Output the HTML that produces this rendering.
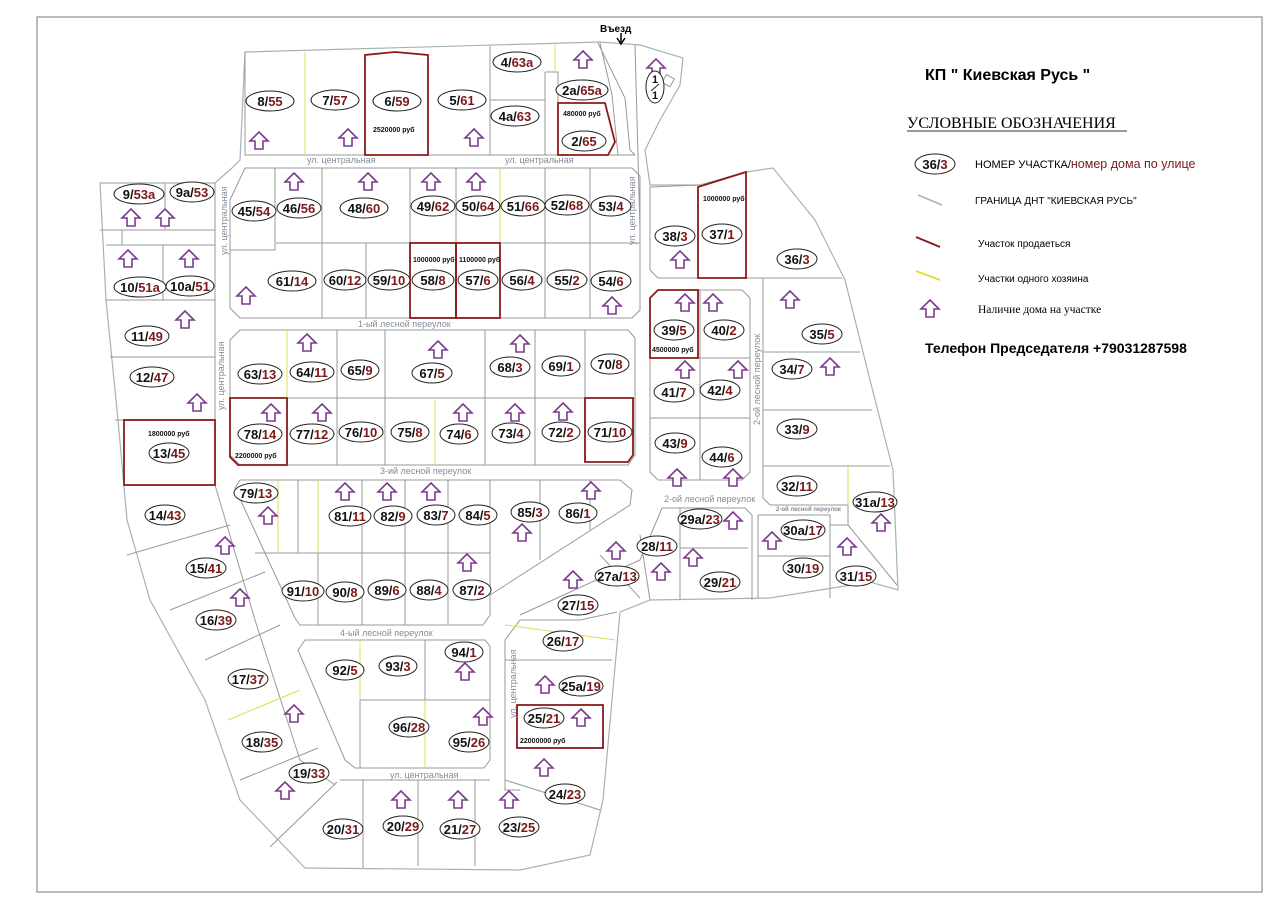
<!DOCTYPE html>
<html><head><meta charset="utf-8"><style>
html,body{margin:0;padding:0;background:#fff;}
svg{display:block;}
.l{font-family:"Liberation Sans",sans-serif;font-weight:bold;font-size:13px;fill:#111;}
.r{fill:#7a1a1a;}
.rd{font-family:"Liberation Sans",sans-serif;font-size:9px;fill:#7f8c99;}
.pr{font-family:"Liberation Sans",sans-serif;font-weight:bold;font-size:7px;fill:#111;}
</style></head><body>
<svg width="1280" height="898" viewBox="0 0 1280 898" xmlns="http://www.w3.org/2000/svg">
<defs>
<symbol id="h" viewBox="-10 -10 20 20" overflow="visible"><path d="M0,-9 L9,0 L4,0 L4,8 L-4,8 L-4,0 L-9,0 Z" fill="#fff" stroke="#7a3c8c" stroke-width="1.6"/></symbol>
</defs>
<rect x="37" y="17" width="1225" height="875" fill="none" stroke="#777" stroke-width="1"/>

<path d="M245,52 L600,42 L640,45 L683,58 L680,85 L660,120 L645,150 L650,185 L700,185 L746,172 L773,168 L815,220 L845,280 L870,380 L893,470 L898,590 L870,582 L770,598 L650,600 L620,612 L612,700 L603,800 L590,855 L520,870 L305,868 L240,800 L205,700 L150,600 L127,520 L118,420 L106,300 L100,183 L215,183 L232,168 L240,160 Z" fill="none" stroke="#a4b4b4" stroke-width="1.2"/>

<g fill="none" stroke="#999" stroke-width="1">
<path d="M245,52 L245,155 L635,155"/>
<path d="M305,52 L305,155" stroke="#e0dc50"/>
<path d="M490,46 L490,155 M490,100 L545,100 M545,72 L558,72 L558,155 M545,72 L545,155"/>
<path d="M555,43 L555,72" stroke="#e0dc50"/>
<path d="M598,43 L625,98 L630,150 L635,155 M600,43 L612,95 L618,155 M635,45 L640,230"/>
<rect x="664" y="76" width="9" height="9" transform="rotate(30 668 80)"/>
<path d="M245,168 L632,168 L640,176 L640,310 L632,318 L240,318 L230,308 L230,200 L245,168 Z"/>
<path d="M275,168 L275,250 L230,250 M276,243 L640,243 M322,168 L322,318 M410,168 L410,243 M456,168 L456,243 M545,168 L545,318 M590,168 L590,318 M366,243 L366,318 M500,243 L500,318"/>
<path d="M500,168 L500,243" stroke="#e0dc50"/>
<path d="M165,183 L165,230 M100,230 L215,230 M122,230 L122,245 L215,245 M106,245 L122,245 M215,183 L215,485 M163,245 L163,300 M106,300 L215,300 M110,357 L215,357 M115,420 L124,420 M215,485 L255,620 L300,760 L335,785"/>
<path d="M240,330 L628,330 L635,338 L635,455 L628,465 L240,465 L230,455 L230,340 Z"/>
<path d="M230,398 L635,398 M337,330 L337,465 M385,330 L385,465 M485,330 L485,465 M535,330 L535,465 M585,330 L585,398"/>
<path d="M287,330 L287,398 M435,398 L435,465" stroke="#e0dc50"/>
<path d="M240,480 L620,480 L632,490 L630,505 L490,595 L490,615 L483,625 L300,625 L295,618 L235,488 Z"/>
<path d="M255,553 L490,553 M298,480 L298,553 M362,480 L362,625 M405,480 L405,625 M448,480 L448,625 M490,480 L490,600 M540,480 L540,560 M590,480 L590,530 M318,553 L318,625"/>
<path d="M278,480 L278,553 M318,480 L318,553" stroke="#e0dc50"/>
<path d="M305,640 L485,640 L490,646 L490,760 L484,768 L355,768 L345,760 L298,650 Z"/>
<path d="M425,640 L425,700 M360,700 L490,700 M360,700 L360,768"/>
<path d="M360,640 L360,700 M425,700 L425,768" stroke="#e0dc50"/>
<path d="M340,780 L490,780 M363,780 L363,868 M418,780 L418,866 M475,780 L475,866 M337,782 L270,847 M505,780 L600,810"/>
<path d="M127,555 L230,525 M170,610 L265,572 M205,660 L280,625 M240,780 L318,748"/>
<path d="M228,720 L300,690" stroke="#e0dc50"/>
<path d="M505,640 L505,790 L520,790 M505,640 L520,620 L580,620 L617,612 M505,660 L612,660"/>
<path d="M505,625 L615,640" stroke="#e0dc50"/>
<path d="M520,615 L640,560 L662,508 L745,508 L752,515 L752,600 M680,508 L680,600 M680,548 L748,548 M758,515 L758,598 M758,515 L830,515 L830,598 M758,556 L830,556 M848,505 L848,525 L830,525 M848,525 L897,585 M600,555 L640,598 M640,535 L650,600 M770,505 L848,505"/>
<path d="M848,466 L848,505" stroke="#e0dc50"/>
<path d="M650,187 L700,185 M650,187 L650,270 L658,278 L842,278 M763,278 L763,498 L770,505 M763,352 L860,352 M763,410 L872,410 M763,466 L890,466"/>
<path d="M658,290 L742,290 L750,298 L750,472 L742,480 L658,480 L650,472 L650,298 Z M700,290 L700,480 M650,358 L750,358 M650,418 L750,418"/>
</g>

<g fill="none" stroke="#8b1a1a" stroke-width="1.8">
<path d="M365,155 L365,55 L395,52 L428,55 L428,155 Z"/>
<path d="M558,103 L605,103 L615,142 L608,155 L558,155 Z"/>
<rect x="410" y="243" width="46" height="75"/>
<rect x="456" y="243" width="44" height="75"/>
<rect x="124" y="420" width="91" height="65"/>
<path d="M230,398 L287,398 L287,465 L238,465 L230,457 Z"/>
<path d="M585,398 L633,398 L633,455 L628,462 L585,462 Z"/>
<path d="M698,187 L746,172 L746,278 L698,278 Z"/>
<path d="M658,290 L698,290 L698,358 L650,358 L650,298 Z"/>
<rect x="517" y="705" width="86" height="43"/>
</g>

<text class="pr" x="373" y="132">2520000 руб</text>
<text class="pr" x="563" y="116">480000 руб</text>
<text class="pr" x="413" y="262">1000000 руб</text>
<text class="pr" x="459" y="262">1100000 руб</text>
<text class="pr" x="148" y="436">1800000 руб</text>
<text class="pr" x="235" y="458">2200000 руб</text>
<text class="pr" x="703" y="201">1000000 руб</text>
<text class="pr" x="652" y="352">4500000 руб</text>
<text class="pr" x="520" y="743">22000000 руб</text>

<text class="rd" x="307" y="163">ул. центральная</text>
<text class="rd" x="505" y="163">ул. центральная</text>
<text class="rd" x="358" y="327">1-ый лесной переулок</text>
<text class="rd" x="380" y="474">3-ий лесной переулок</text>
<text class="rd" x="340" y="636">4-ый лесной переулок</text>
<text class="rd" x="390" y="778">ул. центральная</text>
<text class="rd" x="664" y="502">2-ой лесной переулок</text>
<text class="rd" x="776" y="511" style="font-size:6px;font-weight:bold">2-ой лесной переулок</text>
<text class="rd" transform="translate(227,255) rotate(-90)">ул. центральная</text>
<text class="rd" transform="translate(224,410) rotate(-90)">ул. центральная</text>
<text class="rd" transform="translate(635,245) rotate(-90)">ул. центральная</text>
<text class="rd" transform="translate(516,718) rotate(-90)">ул. центральная</text>
<text class="rd" transform="translate(760,425) rotate(-90)">2-ой лесной переулок</text>
<text x="600" y="32" style="font-family:'Liberation Sans',sans-serif;font-weight:bold;font-size:10px">Въезд</text>
<path d="M621,33 L621,42 M617,38 L621,44 L625,38" stroke="#000" stroke-width="1.5" fill="none"/>

<g>
<use href="#h" x="249" y="131" width="20" height="20"/>
<use href="#h" x="338" y="128" width="20" height="20"/>
<use href="#h" x="464" y="128" width="20" height="20"/>
<use href="#h" x="573" y="50" width="20" height="20"/>
<use href="#h" x="646" y="58" width="20" height="20"/>
<use href="#h" x="284" y="172" width="20" height="20"/>
<use href="#h" x="358" y="172" width="20" height="20"/>
<use href="#h" x="421" y="172" width="20" height="20"/>
<use href="#h" x="466" y="172" width="20" height="20"/>
<use href="#h" x="121" y="208" width="20" height="20"/>
<use href="#h" x="155" y="208" width="20" height="20"/>
<use href="#h" x="118" y="249" width="20" height="20"/>
<use href="#h" x="179" y="249" width="20" height="20"/>
<use href="#h" x="236" y="286" width="20" height="20"/>
<use href="#h" x="602" y="296" width="20" height="20"/>
<use href="#h" x="175" y="310" width="20" height="20"/>
<use href="#h" x="187" y="393" width="20" height="20"/>
<use href="#h" x="297" y="333" width="20" height="20"/>
<use href="#h" x="428" y="340" width="20" height="20"/>
<use href="#h" x="510" y="334" width="20" height="20"/>
<use href="#h" x="261" y="403" width="20" height="20"/>
<use href="#h" x="312" y="403" width="20" height="20"/>
<use href="#h" x="453" y="403" width="20" height="20"/>
<use href="#h" x="505" y="403" width="20" height="20"/>
<use href="#h" x="553" y="402" width="20" height="20"/>
<use href="#h" x="335" y="482" width="20" height="20"/>
<use href="#h" x="377" y="482" width="20" height="20"/>
<use href="#h" x="421" y="482" width="20" height="20"/>
<use href="#h" x="581" y="481" width="20" height="20"/>
<use href="#h" x="258" y="506" width="20" height="20"/>
<use href="#h" x="512" y="523" width="20" height="20"/>
<use href="#h" x="215" y="536" width="20" height="20"/>
<use href="#h" x="230" y="588" width="20" height="20"/>
<use href="#h" x="457" y="553" width="20" height="20"/>
<use href="#h" x="284" y="704" width="20" height="20"/>
<use href="#h" x="275" y="781" width="20" height="20"/>
<use href="#h" x="455" y="662" width="20" height="20"/>
<use href="#h" x="473" y="707" width="20" height="20"/>
<use href="#h" x="535" y="675" width="20" height="20"/>
<use href="#h" x="571" y="708" width="20" height="20"/>
<use href="#h" x="534" y="758" width="20" height="20"/>
<use href="#h" x="391" y="790" width="20" height="20"/>
<use href="#h" x="448" y="790" width="20" height="20"/>
<use href="#h" x="499" y="790" width="20" height="20"/>
<use href="#h" x="563" y="570" width="20" height="20"/>
<use href="#h" x="606" y="541" width="20" height="20"/>
<use href="#h" x="651" y="562" width="20" height="20"/>
<use href="#h" x="683" y="548" width="20" height="20"/>
<use href="#h" x="723" y="511" width="20" height="20"/>
<use href="#h" x="762" y="531" width="20" height="20"/>
<use href="#h" x="837" y="537" width="20" height="20"/>
<use href="#h" x="871" y="513" width="20" height="20"/>
<use href="#h" x="670" y="250" width="20" height="20"/>
<use href="#h" x="780" y="290" width="20" height="20"/>
<use href="#h" x="820" y="357" width="20" height="20"/>
<use href="#h" x="675" y="293" width="20" height="20"/>
<use href="#h" x="703" y="293" width="20" height="20"/>
<use href="#h" x="675" y="360" width="20" height="20"/>
<use href="#h" x="728" y="360" width="20" height="20"/>
<use href="#h" x="667" y="468" width="20" height="20"/>
<use href="#h" x="723" y="468" width="20" height="20"/>
</g>

<g fill="#fff" stroke="#222" stroke-width="1">
<ellipse cx="270" cy="101" rx="24" ry="10"/><ellipse cx="335" cy="100" rx="24" ry="10"/><ellipse cx="397" cy="101" rx="24" ry="10"/><ellipse cx="462" cy="100" rx="24" ry="10"/>
<ellipse cx="517" cy="62" rx="24" ry="10"/><ellipse cx="515" cy="116" rx="24" ry="10"/><ellipse cx="582" cy="90" rx="26" ry="10"/><ellipse cx="584" cy="141" rx="22" ry="10"/>
<ellipse cx="655" cy="87" rx="9" ry="16"/>
<ellipse cx="139" cy="194" rx="25" ry="10"/><ellipse cx="192" cy="192" rx="22" ry="10"/><ellipse cx="254" cy="211" rx="22" ry="10"/><ellipse cx="299" cy="208" rx="22" ry="10"/><ellipse cx="364" cy="208" rx="24" ry="10"/><ellipse cx="433" cy="206" rx="22" ry="10"/><ellipse cx="478" cy="206" rx="22" ry="10"/><ellipse cx="523" cy="206" rx="22" ry="10"/><ellipse cx="567" cy="205" rx="22" ry="10"/><ellipse cx="611" cy="206" rx="20" ry="10"/>
<ellipse cx="140" cy="287" rx="26" ry="10"/><ellipse cx="190" cy="286" rx="24" ry="10"/><ellipse cx="292" cy="281" rx="24" ry="10"/><ellipse cx="345" cy="280" rx="21" ry="10"/><ellipse cx="389" cy="280" rx="21" ry="10"/><ellipse cx="433" cy="280" rx="21" ry="10"/><ellipse cx="478" cy="280" rx="20" ry="10"/><ellipse cx="522" cy="280" rx="20" ry="10"/><ellipse cx="567" cy="280" rx="20" ry="10"/><ellipse cx="611" cy="281" rx="20" ry="10"/>
<ellipse cx="147" cy="336" rx="22" ry="10"/><ellipse cx="152" cy="377" rx="22" ry="10"/><ellipse cx="169" cy="453" rx="20" ry="10"/>
<ellipse cx="260" cy="374" rx="22" ry="10"/><ellipse cx="312" cy="372" rx="22" ry="10"/><ellipse cx="360" cy="370" rx="19" ry="10"/><ellipse cx="432" cy="373" rx="20" ry="10"/><ellipse cx="510" cy="367" rx="20" ry="10"/><ellipse cx="561" cy="366" rx="19" ry="10"/><ellipse cx="610" cy="364" rx="19" ry="10"/>
<ellipse cx="260" cy="434" rx="22" ry="10"/><ellipse cx="312" cy="434" rx="22" ry="10"/><ellipse cx="361" cy="432" rx="22" ry="10"/><ellipse cx="410" cy="432" rx="19" ry="10"/><ellipse cx="459" cy="434" rx="19" ry="10"/><ellipse cx="511" cy="433" rx="19" ry="10"/><ellipse cx="561" cy="432" rx="19" ry="10"/><ellipse cx="610" cy="432" rx="22" ry="10"/>
<ellipse cx="256" cy="493" rx="22" ry="10"/><ellipse cx="350" cy="516" rx="21" ry="10"/><ellipse cx="393" cy="516" rx="19" ry="10"/><ellipse cx="436" cy="515" rx="19" ry="10"/><ellipse cx="478" cy="515" rx="19" ry="10"/><ellipse cx="530" cy="512" rx="19" ry="10"/><ellipse cx="578" cy="513" rx="19" ry="10"/>
<ellipse cx="165" cy="515" rx="20" ry="10"/><ellipse cx="206" cy="568" rx="20" ry="10"/><ellipse cx="216" cy="620" rx="20" ry="10"/><ellipse cx="248" cy="679" rx="20" ry="10"/><ellipse cx="262" cy="742" rx="20" ry="10"/><ellipse cx="309" cy="773" rx="20" ry="10"/><ellipse cx="343" cy="829" rx="20" ry="10"/><ellipse cx="403" cy="826" rx="20" ry="10"/><ellipse cx="460" cy="829" rx="20" ry="10"/><ellipse cx="519" cy="827" rx="20" ry="10"/>
<ellipse cx="303" cy="591" rx="21" ry="10"/><ellipse cx="345" cy="592" rx="19" ry="10"/><ellipse cx="387" cy="590" rx="19" ry="10"/><ellipse cx="429" cy="590" rx="19" ry="10"/><ellipse cx="472" cy="590" rx="19" ry="10"/>
<ellipse cx="345" cy="670" rx="19" ry="10"/><ellipse cx="398" cy="666" rx="19" ry="10"/><ellipse cx="464" cy="652" rx="19" ry="10"/><ellipse cx="409" cy="727" rx="20" ry="10"/><ellipse cx="469" cy="742" rx="20" ry="10"/>
<ellipse cx="578" cy="605" rx="20" ry="10"/><ellipse cx="617" cy="576" rx="22" ry="10"/><ellipse cx="657" cy="546" rx="20" ry="10"/><ellipse cx="700" cy="519" rx="22" ry="10"/><ellipse cx="720" cy="582" rx="20" ry="10"/><ellipse cx="803" cy="530" rx="22" ry="10"/><ellipse cx="803" cy="568" rx="20" ry="10"/><ellipse cx="856" cy="576" rx="20" ry="10"/><ellipse cx="875" cy="502" rx="22" ry="10"/>
<ellipse cx="563" cy="641" rx="20" ry="10"/><ellipse cx="581" cy="686" rx="22" ry="10"/><ellipse cx="544" cy="718" rx="20" ry="10"/><ellipse cx="565" cy="794" rx="20" ry="10"/>
<ellipse cx="675" cy="236" rx="20" ry="10"/><ellipse cx="722" cy="234" rx="20" ry="10"/><ellipse cx="797" cy="259" rx="20" ry="10"/><ellipse cx="674" cy="330" rx="20" ry="10"/><ellipse cx="724" cy="330" rx="20" ry="10"/><ellipse cx="674" cy="392" rx="20" ry="10"/><ellipse cx="720" cy="390" rx="20" ry="10"/><ellipse cx="675" cy="443" rx="20" ry="10"/><ellipse cx="722" cy="457" rx="20" ry="10"/><ellipse cx="822" cy="334" rx="20" ry="10"/><ellipse cx="792" cy="369" rx="20" ry="10"/><ellipse cx="797" cy="429" rx="20" ry="10"/><ellipse cx="797" cy="486" rx="20" ry="10"/>
<ellipse cx="935" cy="164" rx="20" ry="10"/>
</g>
<g class="l" text-anchor="middle">
<text x="270" y="106">8/<tspan class="r">55</tspan></text><text x="335" y="105">7/<tspan class="r">57</tspan></text><text x="397" y="106">6/<tspan class="r">59</tspan></text><text x="462" y="105">5/<tspan class="r">61</tspan></text>
<text x="517" y="67">4/<tspan class="r">63а</tspan></text><text x="515" y="121">4а/<tspan class="r">63</tspan></text><text x="582" y="95">2а/<tspan class="r">65а</tspan></text><text x="584" y="146">2/<tspan class="r">65</tspan></text>
<text x="655" y="83" style="font-size:11px">1</text><text x="655" y="99" style="font-size:11px">1</text>
<text x="139" y="199">9/<tspan class="r">53а</tspan></text><text x="192" y="197">9а/<tspan class="r">53</tspan></text><text x="254" y="216">45/<tspan class="r">54</tspan></text><text x="299" y="213">46/<tspan class="r">56</tspan></text><text x="364" y="213">48/<tspan class="r">60</tspan></text><text x="433" y="211">49/<tspan class="r">62</tspan></text><text x="478" y="211">50/<tspan class="r">64</tspan></text><text x="523" y="211">51/<tspan class="r">66</tspan></text><text x="567" y="210">52/<tspan class="r">68</tspan></text><text x="611" y="211">53/<tspan class="r">4</tspan></text>
<text x="140" y="292">10/<tspan class="r">51а</tspan></text><text x="190" y="291">10а/<tspan class="r">51</tspan></text><text x="292" y="286">61/<tspan class="r">14</tspan></text><text x="345" y="285">60/<tspan class="r">12</tspan></text><text x="389" y="285">59/<tspan class="r">10</tspan></text><text x="433" y="285">58/<tspan class="r">8</tspan></text><text x="478" y="285">57/<tspan class="r">6</tspan></text><text x="522" y="285">56/<tspan class="r">4</tspan></text><text x="567" y="285">55/<tspan class="r">2</tspan></text><text x="611" y="286">54/<tspan class="r">6</tspan></text>
<text x="147" y="341">11/<tspan class="r">49</tspan></text><text x="152" y="382">12/<tspan class="r">47</tspan></text><text x="169" y="458">13/<tspan class="r">45</tspan></text>
<text x="260" y="379">63/<tspan class="r">13</tspan></text><text x="312" y="377">64/<tspan class="r">11</tspan></text><text x="360" y="375">65/<tspan class="r">9</tspan></text><text x="432" y="378">67/<tspan class="r">5</tspan></text><text x="510" y="372">68/<tspan class="r">3</tspan></text><text x="561" y="371">69/<tspan class="r">1</tspan></text><text x="610" y="369">70/<tspan class="r">8</tspan></text>
<text x="260" y="439">78/<tspan class="r">14</tspan></text><text x="312" y="439">77/<tspan class="r">12</tspan></text><text x="361" y="437">76/<tspan class="r">10</tspan></text><text x="410" y="437">75/<tspan class="r">8</tspan></text><text x="459" y="439">74/<tspan class="r">6</tspan></text><text x="511" y="438">73/<tspan class="r">4</tspan></text><text x="561" y="437">72/<tspan class="r">2</tspan></text><text x="610" y="437">71/<tspan class="r">10</tspan></text>
<text x="256" y="498">79/<tspan class="r">13</tspan></text><text x="350" y="521">81/<tspan class="r">11</tspan></text><text x="393" y="521">82/<tspan class="r">9</tspan></text><text x="436" y="520">83/<tspan class="r">7</tspan></text><text x="478" y="520">84/<tspan class="r">5</tspan></text><text x="530" y="517">85/<tspan class="r">3</tspan></text><text x="578" y="518">86/<tspan class="r">1</tspan></text>
<text x="165" y="520">14/<tspan class="r">43</tspan></text><text x="206" y="573">15/<tspan class="r">41</tspan></text><text x="216" y="625">16/<tspan class="r">39</tspan></text><text x="248" y="684">17/<tspan class="r">37</tspan></text><text x="262" y="747">18/<tspan class="r">35</tspan></text><text x="309" y="778">19/<tspan class="r">33</tspan></text><text x="343" y="834">20/<tspan class="r">31</tspan></text><text x="403" y="831">20/<tspan class="r">29</tspan></text><text x="460" y="834">21/<tspan class="r">27</tspan></text><text x="519" y="832">23/<tspan class="r">25</tspan></text>
<text x="303" y="596">91/<tspan class="r">10</tspan></text><text x="345" y="597">90/<tspan class="r">8</tspan></text><text x="387" y="595">89/<tspan class="r">6</tspan></text><text x="429" y="595">88/<tspan class="r">4</tspan></text><text x="472" y="595">87/<tspan class="r">2</tspan></text>
<text x="345" y="675">92/<tspan class="r">5</tspan></text><text x="398" y="671">93/<tspan class="r">3</tspan></text><text x="464" y="657">94/<tspan class="r">1</tspan></text><text x="409" y="732">96/<tspan class="r">28</tspan></text><text x="469" y="747">95/<tspan class="r">26</tspan></text>
<text x="578" y="610">27/<tspan class="r">15</tspan></text><text x="617" y="581">27а/<tspan class="r">13</tspan></text><text x="657" y="551">28/<tspan class="r">11</tspan></text><text x="700" y="524">29а/<tspan class="r">23</tspan></text><text x="720" y="587">29/<tspan class="r">21</tspan></text><text x="803" y="535">30а/<tspan class="r">17</tspan></text><text x="803" y="573">30/<tspan class="r">19</tspan></text><text x="856" y="581">31/<tspan class="r">15</tspan></text><text x="875" y="507">31а/<tspan class="r">13</tspan></text>
<text x="563" y="646">26/<tspan class="r">17</tspan></text><text x="581" y="691">25а/<tspan class="r">19</tspan></text><text x="544" y="723">25/<tspan class="r">21</tspan></text><text x="565" y="799">24/<tspan class="r">23</tspan></text>
<text x="675" y="241">38/<tspan class="r">3</tspan></text><text x="722" y="239">37/<tspan class="r">1</tspan></text><text x="797" y="264">36/<tspan class="r">3</tspan></text><text x="674" y="335">39/<tspan class="r">5</tspan></text><text x="724" y="335">40/<tspan class="r">2</tspan></text><text x="674" y="397">41/<tspan class="r">7</tspan></text><text x="720" y="395">42/<tspan class="r">4</tspan></text><text x="675" y="448">43/<tspan class="r">9</tspan></text><text x="722" y="462">44/<tspan class="r">6</tspan></text><text x="822" y="339">35/<tspan class="r">5</tspan></text><text x="792" y="374">34/<tspan class="r">7</tspan></text><text x="797" y="434">33/<tspan class="r">9</tspan></text><text x="797" y="491">32/<tspan class="r">11</tspan></text>
<text x="935" y="169">36/<tspan class="r">3</tspan></text>
</g>
<path d="M651,91 L659,84" stroke="#222" stroke-width="1"/>

<text x="925" y="80" style="font-family:'Liberation Sans',sans-serif;font-weight:bold;font-size:16px">КП " Киевская Русь "</text>
<text x="907" y="128" style="font-family:'Liberation Serif',serif;font-size:16px">УСЛОВНЫЕ ОБОЗНАЧЕНИЯ</text>
<line x1="907" y1="131" x2="1127" y2="131" stroke="#333" stroke-width="1"/>
<text x="975" y="168" style="font-family:'Liberation Sans',sans-serif;font-size:11px">НОМЕР УЧАСТКА/<tspan fill="#7a1a1a" style="font-size:12.5px">номер дома по улице</tspan></text>
<line x1="918" y1="195" x2="942" y2="205" stroke="#a4b4b4" stroke-width="1.5"/>
<text x="975" y="204" style="font-family:'Liberation Sans',sans-serif;font-size:10px">ГРАНИЦА ДНТ "КИЕВСКАЯ РУСЬ"</text>
<line x1="916" y1="237" x2="940" y2="247" stroke="#8b1a1a" stroke-width="1.8"/>
<text x="978" y="247" style="font-family:'Liberation Sans',sans-serif;font-size:10px">Участок продаеться</text>
<line x1="916" y1="271" x2="940" y2="280" stroke="#e0dc30" stroke-width="1.8"/>
<text x="978" y="282" style="font-family:'Liberation Sans',sans-serif;font-size:10px">Участки одного хозяина</text>
<use href="#h" x="920" y="299" width="20" height="20"/>
<text x="978" y="313" style="font-family:'Liberation Serif',serif;font-size:11.5px">Наличие дома на участке</text>
<text x="925" y="353" style="font-family:'Liberation Sans',sans-serif;font-weight:bold;font-size:14px">Телефон Председателя  +79031287598</text>
</svg>
</body></html>
